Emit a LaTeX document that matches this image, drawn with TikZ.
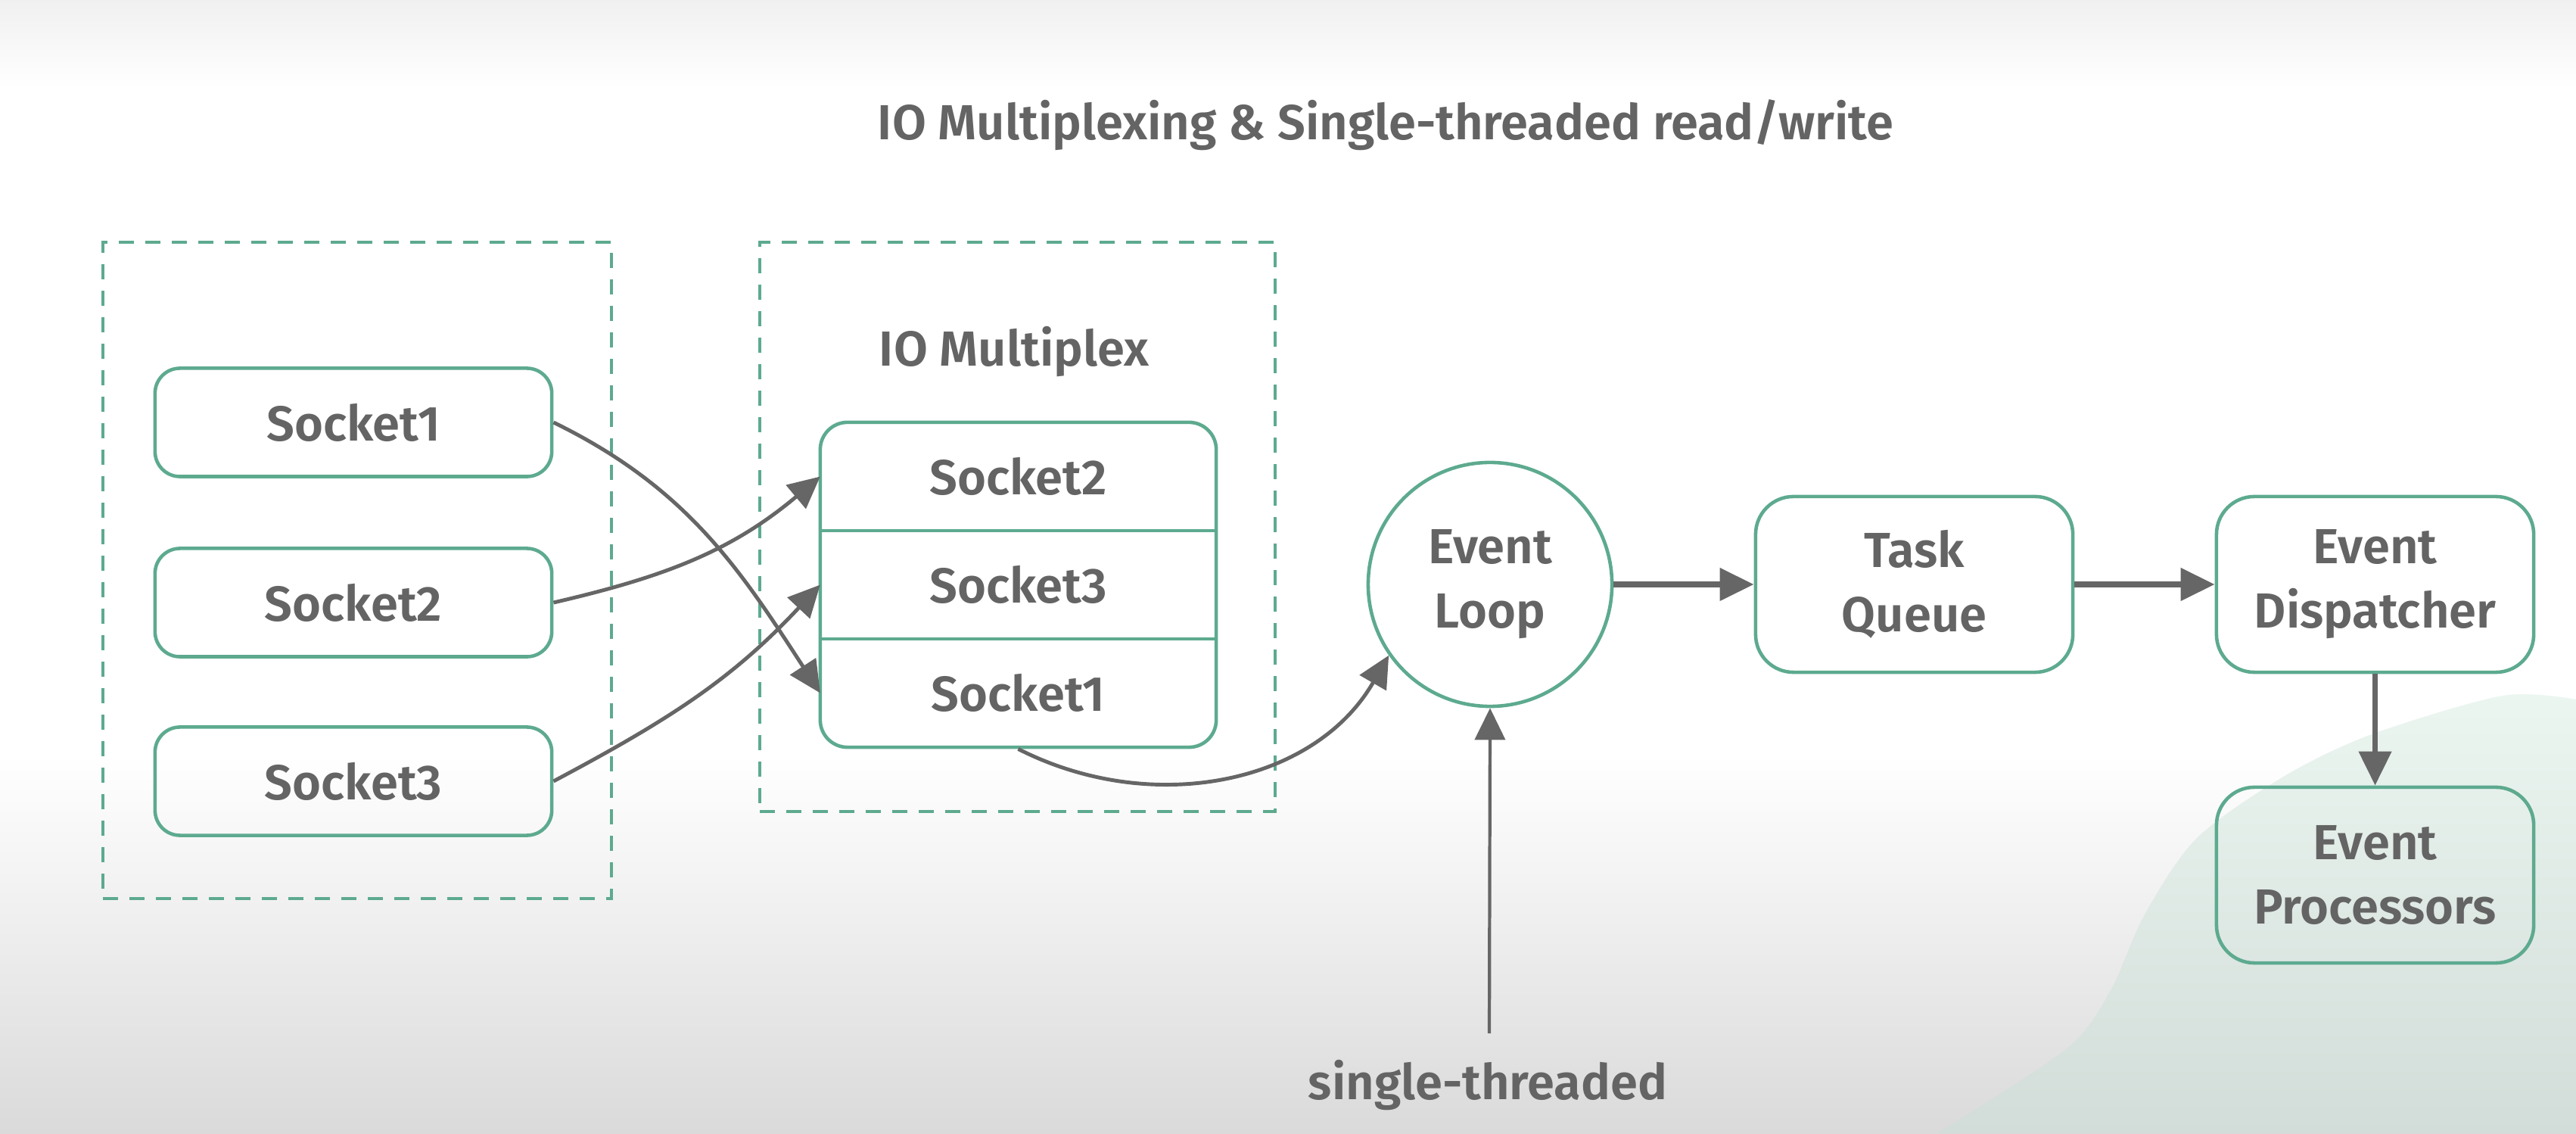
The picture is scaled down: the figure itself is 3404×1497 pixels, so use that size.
\documentclass[tikz,border=0pt]{standalone}
\usepackage{fontspec}
\setmainfont{Fira Sans SemiBold}
\usetikzlibrary{arrows.meta,shapes.geometric}
\definecolor{grn}{HTML}{5DAA8F}
\definecolor{txt}{HTML}{646464}
\definecolor{arrc}{HTML}{666666}
\definecolor{bggray}{HTML}{DADADA}
\definecolor{topgray}{HTML}{F0F0F0}
\definecolor{blobtop}{HTML}{ECF6F1}
\definecolor{blobbot}{HTML}{D2DCD8}
\newcommand\myfs{\fontsize{18.5}{24.2}\selectfont}
\begin{document}
\begin{tikzpicture}[x=0.01cm,y=0.01cm,
  box/.style={draw=grn, line width=1.3pt, rounded corners=0.33cm, minimum width=5.24cm, minimum height=1.43cm, text=txt, font=\myfs},
  big/.style={draw=grn, line width=1.3pt, rounded corners=0.5cm, minimum width=4.19cm, minimum height=2.32cm, align=center, text=txt, font=\myfs},
  cell/.style={minimum width=5.23cm, minimum height=1.43cm, outer sep=0pt, inner sep=0pt, text=txt, font=\myfs},
  lbl/.style={text=txt, font=\myfs, inner sep=0pt},
  arrow/.style={draw=arrc, line width=1.4pt, -{Triangle[length=0.42cm,width=0.4cm]}},
  harrow/.style={draw=arrc, line width=2.1pt, -{Triangle[length=0.45cm,width=0.42cm]}},
  dashbox/.style={draw=grn, line width=1.2pt, dash pattern=on 0.2cm off 0.15cm, inner sep=0pt}]
\useasboundingbox (0,0) rectangle (3404,1497);
% background
\fill[white] (0,500) rectangle (3404,1380);
\shade[top color=white, bottom color=bggray] (0,0) rectangle (3404,500);
\shade[top color=topgray, bottom color=white] (0,1380) rectangle (3404,1497);
\shade[top color=blobtop, bottom color=blobbot] plot[smooth] coordinates {(2560,0) (2730,111) (2788,187) (2834,289) (2903,390) (3019,472) (3134,527) (3307,578) (3404,573)} -- (3404,0) -- cycle;

% title
\node[lbl, anchor=base] (title) at (1831,1312) {IO Multiplexing \& Single-threaded read/write};

% left group
\node[dashbox, minimum width=6.72cm, minimum height=8.67cm] (g1) at (472,743.5) {};
\node[box] (s1) at (467,939) {Socket1};
\node[box] (s2) at (467,701) {Socket2};
\node[box] (s3) at (467,465) {Socket3};

% IO multiplex group
\node[dashbox, minimum width=6.81cm, minimum height=7.52cm] (g2) at (1344.5,801) {};
\node[lbl, anchor=base] (mtitle) at (1340,1013) {IO Multiplex};
\node[draw=grn, line width=1.3pt, rounded corners=0.36cm, minimum width=5.23cm, minimum height=4.29cm] (mux) at (1345.5,724.5) {};
\node[cell] (m2) at (1345.5,867.5) {Socket2};
\node[cell] (m3) at (1345.5,724.5) {Socket3};
\node[cell] (m1) at (1345.5,581.5) {Socket1};
\draw[draw=grn, line width=1.3pt] (m2.south west) -- (m2.south east);
\draw[draw=grn, line width=1.3pt] (m3.south west) -- (m3.south east);

% right chain
\node[circle, draw=grn, line width=1.3pt, minimum size=3.22cm, inner sep=0pt, align=center, text=txt, font=\myfs] (el) at (1969,725) {Event\\Loop};
\node[big] (tq) at (2529.5,725) {Task\\Queue};
\node[big] (ed) at (3138.5,725) {Event\\Dispatcher};
\node[big] (ep) at (3138.5,341) {Event\\Processors};
\node[lbl, anchor=base] (st) at (1966,45) {single-threaded};
\coordinate (stTop) at (1968,132);

% connectors
\draw[arrow] (s1.east) to[out=-26,in=123] (m1.west);
\draw[arrow] (s2.east) to[out=13,in=220] (m2.west);
\draw[arrow] (s3.east) to[out=28,in=227] (m3.west);
\draw[arrow] (mux.south) to[out=-27,in=240] (el.215);
\draw[harrow] (el.east) -- (tq.west);
\draw[harrow] (tq.east) -- (ed.west);
\draw[harrow] (ed.south) -- (ep.north);
\draw[arrow, line width=1.2pt] (stTop) -- (el.south);
\end{tikzpicture}
\end{document}
